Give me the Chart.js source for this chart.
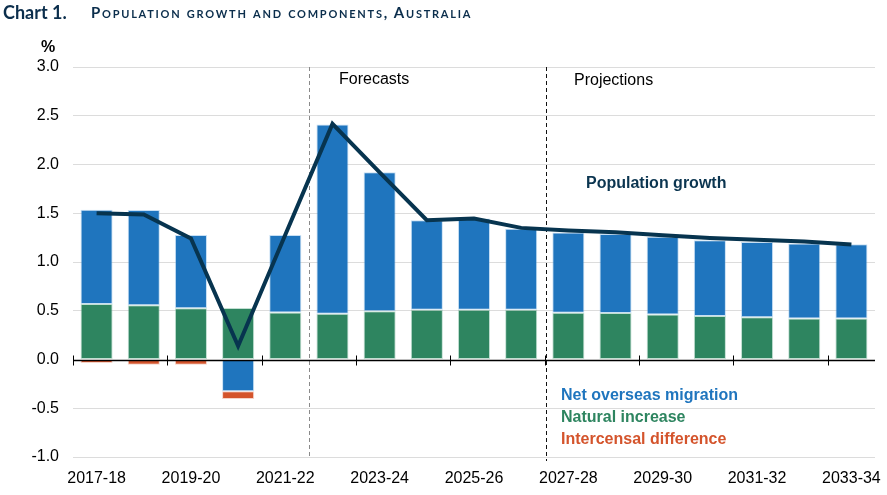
<!DOCTYPE html>
<html>
<head>
<meta charset="utf-8">
<script src="https://cdn.jsdelivr.net/npm/chart.js@4"></script>
<style>
  html, body { margin: 0; padding: 0; background: #fff; }
  #wrap { position: relative; width: 887px; height: 495px; overflow: hidden; }
  #wrap canvas { position: absolute; left: 0; top: 0; }
  .t { position: absolute; white-space: nowrap; font-family: "Liberation Sans", Arial, sans-serif; font-size: 16px; line-height: 16px; }
  .b { font-weight: bold; }
</style>
</head>
<body>
<div id="wrap">
  <canvas id="c" width="887" height="495"></canvas>
  <div class="t" style="left:3px; top:3px; font-family: Lato, 'Open Sans', sans-serif; font-weight:bold; font-size:18px; line-height:18px; color:#0b2e4c;">Chart 1.</div>
  <div class="t" style="left:91px; top:3px; font-family: Lato, 'Open Sans', sans-serif; font-weight:bold; font-size:15px; line-height:18px; font-variant: small-caps; letter-spacing:1.75px; color:#0b2e4c;">Population growth and components, Australia</div>
  <div class="t b" style="left:41px; top:39px; color:#000;">%</div>
  <div class="t" style="left:339px; top:71px; color:#000;">Forecasts</div>
  <div class="t" style="left:574px; top:72px; color:#000;">Projections</div>
  <div class="t b" style="left:586px; top:175px; color:#0b3550;">Population growth</div>
  <div class="t b" style="left:561px; top:387px; color:#1f75be;">Net overseas migration</div>
  <div class="t b" style="left:561px; top:409px; color:#2e8560;">Natural increase</div>
  <div class="t b" style="left:561px; top:431px; color:#d4542c;">Intercensal difference</div>
</div>
<script>
const categories = ["2017-18","2018-19","2019-20","2020-21","2021-22","2022-23","2023-24","2024-25","2025-26","2026-27","2027-28","2028-29","2029-30","2030-31","2031-32","2032-33","2033-34"];
const naturalIncrease = [0.57,0.557,0.526,0.529,0.482,0.468,0.495,0.509,0.509,0.509,0.48,0.478,0.461,0.447,0.434,0.42,0.42];
const netOverseasMigration = [0.965,0.977,0.752,-0.325,0.796,1.942,1.426,0.92,0.937,0.831,0.823,0.81,0.797,0.777,0.772,0.77,0.763];
const intercensalDifference = [-0.035,-0.055,-0.055,-0.079,0,0,0,0,0,0,0,0,0,0,0,0,0];
const populationGrowth = [1.50,1.487,1.241,0.139,1.28,2.417,1.92,1.429,1.446,1.35,1.323,1.306,1.275,1.247,1.227,1.21,1.18];
const yTicks = { min: -1, max: 3, step: 0.5 };
const forecastStartIndex = 5;
const projectionStartIndex = 10;

const FONT = "'Liberation Sans', Arial, sans-serif";

function boundaryX(xs, i) {
  const c = xs.getPixelForValue(i);
  const w = xs.getPixelForValue(1) - xs.getPixelForValue(0);
  return c - w / 2;
}

const decor = {
  id: 'decor',
  beforeDatasetsDraw(chart) {
    const { ctx, chartArea: a, scales: { x } } = chart;
    ctx.save();
    ctx.lineWidth = 1;
    let bx = Math.round(boundaryX(x, forecastStartIndex)) + 0.5;
    ctx.strokeStyle = '#8a8a8a';
    ctx.setLineDash([4, 3]);
    ctx.beginPath(); ctx.moveTo(bx, a.top); ctx.lineTo(bx, a.bottom); ctx.stroke();
    bx = Math.round(boundaryX(x, projectionStartIndex)) + 1.5;
    ctx.strokeStyle = '#111';
    ctx.setLineDash([4, 3]);
    ctx.beginPath(); ctx.moveTo(bx, a.top); ctx.lineTo(bx, a.bottom + 4); ctx.stroke();
    ctx.restore();
  },
  afterDatasetsDraw(chart) {
    const { ctx, chartArea: a, scales: { x, y } } = chart;
    const y0 = Math.round(y.getPixelForValue(0)) + 0.5;
    ctx.save();
    ctx.strokeStyle = '#000';
    ctx.lineWidth = 1.3;
    ctx.beginPath(); ctx.moveTo(a.left, y0); ctx.lineTo(a.right, y0); ctx.stroke();
    ctx.lineWidth = 1;
    for (let i = 0; i < categories.length; i += 2) {
      const bx = Math.round(boundaryX(x, i)) + 0.5;
      ctx.beginPath(); ctx.moveTo(bx, y0 - 5); ctx.lineTo(bx, y0 + 5); ctx.stroke();
    }
    ctx.restore();
  }
};

const barCommon = {
  type: 'bar',
  order: 1,
  barPercentage: 0.68,
  categoryPercentage: 1.0,
  borderWidth: 1,
  borderSkipped: false,
  stack: 's'
};

new Chart(document.getElementById('c'), {
  data: {
    labels: categories,
    datasets: [
      {
        type: 'line', label: 'Population growth', data: populationGrowth, order: 0,
        borderColor: '#07344f', borderWidth: 4, pointRadius: 0, tension: 0, fill: false
      },
      Object.assign({}, barCommon, { label: 'Natural increase', data: naturalIncrease, backgroundColor: '#2e8560', borderColor: 'rgba(120,185,155,0.45)' }),
      Object.assign({}, barCommon, { label: 'Net overseas migration', data: netOverseasMigration, backgroundColor: '#1f75be', borderColor: 'rgba(130,185,230,0.45)' }),
      Object.assign({}, barCommon, { label: 'Intercensal difference', data: intercensalDifference, backgroundColor: '#d4542c', borderColor: 'rgba(235,160,135,0.45)' })
    ]
  },
  options: {
    responsive: false,
    animation: false,
    events: [],
    layout: { padding: { top: 67, right: 12, left: 0, bottom: 0 } },
    plugins: { legend: { display: false }, tooltip: { enabled: false } },
    scales: {
      x: {
        type: 'category',
        offset: true,
        stacked: true,
        grid: { display: false },
        border: { display: false },
        ticks: {
          autoSkip: false, maxRotation: 0, minRotation: 0, padding: 4,
          color: '#000', font: { family: FONT, size: 16 },
          callback: function (v, i) { return i % 2 === 0 ? categories[i] : ''; }
        },
        afterFit(s) { s.height = 38; }
      },
      y: {
        stacked: true,
        min: yTicks.min, max: yTicks.max,
        grid: {
          color: (c) => (c.tick && c.tick.value === 0) ? 'rgba(0,0,0,0)' : '#dcdcdc',
          lineWidth: 1, drawTicks: false
        },
        border: { display: false },
        ticks: {
          stepSize: yTicks.step, padding: 14, color: '#000',
          font: { family: FONT, size: 16 },
          callback: (v) => Number(v).toFixed(1)
        },
        afterFit(s) { s.width = 73; }
      }
    }
  },
  plugins: [decor]
});
</script>
</body>
</html>
